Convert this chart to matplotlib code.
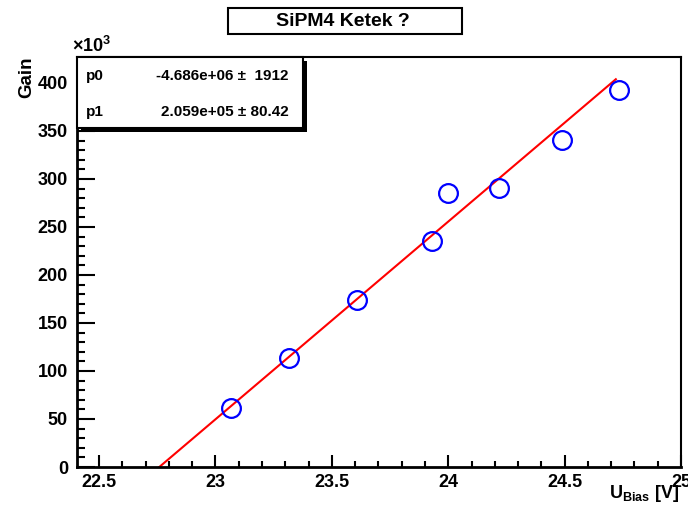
import numpy as np
import matplotlib
matplotlib.use("Agg")
import matplotlib.pyplot as plt
from matplotlib.patches import Rectangle
from matplotlib.ticker import MultipleLocator

plt.rcParams['font.family'] = ['Liberation Sans', 'DejaVu Sans']
plt.rcParams['font.weight'] = 'bold'
plt.rcParams['mathtext.fontset'] = 'custom'
plt.rcParams['mathtext.rm'] = 'Liberation Sans:bold'
plt.rcParams['mathtext.bf'] = 'Liberation Sans:bold'

# data
u_bias = [23.066, 23.315, 23.608, 23.930, 23.999, 24.218, 24.489, 24.734]
gain_k = [61.8, 114.0, 173.5, 235.5, 285.5, 290.5, 341.0, 392.5]   # gain / 1e3
p0, p0_err = -4.686e6, 1912
p1, p1_err = 2.059e5, 80.42
fit_range = [22.70, 24.72]
title = "SiPM4 Ketek ?"
xtick_vals = [22.5, 23, 23.5, 24, 24.5, 25]
xtick_labels = ['22.5', '23', '23.5', '24', '24.5', '25']

W, H = 688, 513
fig = plt.figure(figsize=(W / 100, H / 100), dpi=100)

def fx(px):
    return px / W

def fy(py):
    return 1 - py / H

ax = fig.add_axes([fx(77), fy(467), fx(681) - fx(77), fy(57) - fy(467)])
ax.set_xlim(22.405, 25.0)
ax.set_ylim(0, 427)

xf = np.linspace(fit_range[0], fit_range[1], 200)
yf = (p0 + p1 * xf) / 1e3
ax.plot(xf, yf, color='#ff0000', lw=1.5, zorder=2)
ax.plot(u_bias, gain_k, linestyle='none', marker='o', markersize=13.5,
        markerfacecolor='none', markeredgecolor='#0000ff', markeredgewidth=1.6, zorder=3)

ax.xaxis.set_minor_locator(MultipleLocator(0.1))
ax.yaxis.set_major_locator(MultipleLocator(50))
ax.yaxis.set_minor_locator(MultipleLocator(10))
ax.set_xticks(xtick_vals)
ax.set_xticklabels(xtick_labels)
ax.tick_params(axis='x', which='major', direction='in', length=9, width=1.5,
               labelsize=13, pad=5, top=False)
ax.tick_params(axis='x', which='minor', direction='in', length=4.5, width=1.5, top=False)
ax.tick_params(axis='y', which='major', direction='in', length=13, width=1.5,
               labelsize=13, pad=6.5, right=False)
ax.tick_params(axis='y', which='minor', direction='in', length=6, width=1.5, right=False)
for lab in ax.get_xticklabels() + ax.get_yticklabels():
    lab.set_fontweight('bold')
for s in ['left', 'bottom']:
    ax.spines[s].set_linewidth(2)
for s in ['top', 'right']:
    ax.spines[s].set_linewidth(1.5)

# axis titles
fig.text(fx(27), fy(56), 'Gain', rotation=90, ha='center', va='top',
         fontsize=13.5, fontweight='bold')
fig.text(fx(72), fy(46), r'$\times$10$^{\mathregular{3}}$', ha='left', va='center',
         fontsize=13, fontweight='bold')
fig.text(fx(679), fy(493), r'U$_{\mathregular{Bias}}$ [V]', ha='right', va='center',
         fontsize=13, fontweight='bold')

# title box
fig.patches.append(Rectangle((fx(228), fy(34)), fx(462) - fx(228), fy(8) - fy(34),
                             transform=fig.transFigure, facecolor='white',
                             edgecolor='black', lw=1.5, zorder=5))
fig.text(fx(343), fy(21), title, ha='center', va='center', fontsize=14,
         fontweight='bold', zorder=6)

# stats box with shadow
fig.patches.append(Rectangle((fx(81), fy(132)), fx(303) - fx(77), fy(57) - fy(128),
                             transform=fig.transFigure, facecolor='black',
                             edgecolor='black', lw=0, zorder=5))
fig.patches.append(Rectangle((fx(77), fy(128)), fx(303) - fx(77), fy(57) - fy(128),
                             transform=fig.transFigure, facecolor='white',
                             edgecolor='black', lw=1.5, zorder=6))
fig.text(fx(86), fy(76), 'p0', ha='left', va='center', fontsize=11, fontweight='bold', zorder=7)
fig.text(fx(289), fy(76), f'{p0:.3e}' + ' \u00b1  ' + f'{p0_err:g}',
         ha='right', va='center', fontsize=11, fontweight='bold', zorder=7)
fig.text(fx(86), fy(112), 'p1', ha='left', va='center', fontsize=11, fontweight='bold', zorder=7)
fig.text(fx(289), fy(112), f'{p1:.3e}' + ' \u00b1 ' + f'{p1_err:g}',
         ha='right', va='center', fontsize=11, fontweight='bold', zorder=7)

fig.savefig('out.png', dpi=100)
